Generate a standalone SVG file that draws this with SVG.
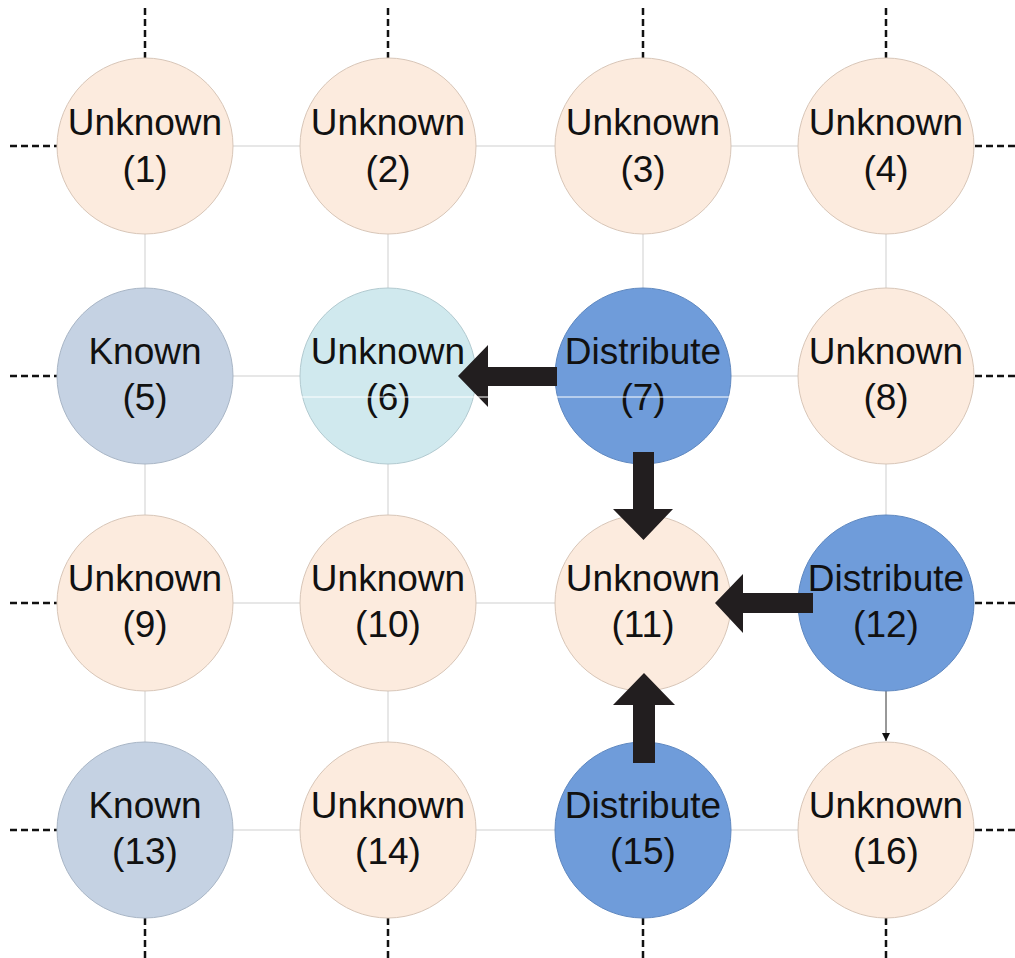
<svg xmlns="http://www.w3.org/2000/svg" width="1015" height="958" viewBox="0 0 1015 958">
<style>
.grid{stroke:#cfcfcf;stroke-width:1;fill:none}
.dash{stroke:#111;stroke-width:2.5;stroke-dasharray:7,4;fill:none}
.unk{fill:#fcebde;stroke:#d8c6b8;stroke-width:1}
.kn{fill:#c5d2e3;stroke:#a9b6c6;stroke-width:1}
.unk6{fill:#d0e9ee;stroke:#b2cad0;stroke-width:1}
.dist{fill:#6f9cda;stroke:#5f88c0;stroke-width:1}
.big{fill:#221e1f}
text{font-family:"Liberation Sans",Arial,sans-serif;font-size:37px;fill:#111;text-anchor:middle}
</style>
<defs>
<marker id="sm" markerWidth="10" markerHeight="10" refX="8" refY="4" orient="auto" markerUnits="userSpaceOnUse">
<path d="M0,0 L8,4 L0,8 Z" fill="#111"/>
</marker>
</defs>
<rect width="1015" height="958" fill="#fff"/>
<g id="connectors">
<path class="grid" d="M145,146H886M145,376H886M145,603H886M145,830H886M145,146V830M388,146V830M643,146V830M886,146V691"/>
<line x1="886" y1="691" x2="886" y2="741" stroke="#333" stroke-width="1" marker-end="url(#sm)"/>
<path class="dash" d="M145,8V58M388,8V58M643,8V58M886,8V58M145,918V958M388,918V958M643,918V958M886,918V958M10,146H57M10,376H57M10,603H57M10,830H57M975,146H1015M975,376H1015M975,603H1015M975,830H1015"/>
</g>
<g id="n1"><circle class="unk" cx="145" cy="146" r="88"/><text x="145" y="135">Unknown</text><text x="145" y="182">(1)</text></g>
<g id="n2"><circle class="unk" cx="388" cy="146" r="88"/><text x="388" y="135">Unknown</text><text x="388" y="182">(2)</text></g>
<g id="n3"><circle class="unk" cx="643" cy="146" r="88"/><text x="643" y="135">Unknown</text><text x="643" y="182">(3)</text></g>
<g id="n4"><circle class="unk" cx="886" cy="146" r="88"/><text x="886" y="135">Unknown</text><text x="886" y="182">(4)</text></g>
<g id="n5"><circle class="kn" cx="145" cy="376" r="88"/><text x="145" y="364">Known</text><text x="145" y="410">(5)</text></g>
<g id="n6"><circle class="unk6" cx="388" cy="376" r="88"/><text x="388" y="364">Unknown</text><text x="388" y="410">(6)</text></g>
<g id="n7"><circle class="dist" cx="643" cy="376" r="88"/><text x="643" y="364">Distribute</text><text x="643" y="410">(7)</text></g>
<g id="n8"><circle class="unk" cx="886" cy="376" r="88"/><text x="886" y="364">Unknown</text><text x="886" y="410">(8)</text></g>
<g id="n9"><circle class="unk" cx="145" cy="603" r="88"/><text x="145" y="591">Unknown</text><text x="145" y="637">(9)</text></g>
<g id="n10"><circle class="unk" cx="388" cy="603" r="88"/><text x="388" y="591">Unknown</text><text x="388" y="637">(10)</text></g>
<g id="n11"><circle class="unk" cx="643" cy="603" r="88"/><text x="643" y="591">Unknown</text><text x="643" y="637">(11)</text></g>
<g id="n12"><circle class="dist" cx="886" cy="603" r="88"/><text x="886" y="591">Distribute</text><text x="886" y="637">(12)</text></g>
<g id="n13"><circle class="kn" cx="145" cy="830" r="88"/><text x="145" y="818">Known</text><text x="145" y="864">(13)</text></g>
<g id="n14"><circle class="unk" cx="388" cy="830" r="88"/><text x="388" y="818">Unknown</text><text x="388" y="864">(14)</text></g>
<g id="n15"><circle class="dist" cx="643" cy="830" r="88"/><text x="643" y="818">Distribute</text><text x="643" y="864">(15)</text></g>
<g id="n16"><circle class="unk" cx="886" cy="830" r="88"/><text x="886" y="818">Unknown</text><text x="886" y="864">(16)</text></g>
<g id="arrows">
<polygon class="big" points="557,367 488,367 488,345 458,376 488,407 488,386 557,386"/>
<polygon class="big" points="633,452 654,452 654,509 673,509 643.5,540 613,509 633,509"/>
<polygon class="big" points="813,593 743,593 743,574 715,603 743,633 743,613 813,613"/>
<polygon class="big" points="633,763 655,763 655,705 675,705 644,673 613,705 633,705"/>
</g>
<line x1="300" y1="397" x2="731" y2="397" stroke="#fff" stroke-width="1"/>
</svg>
